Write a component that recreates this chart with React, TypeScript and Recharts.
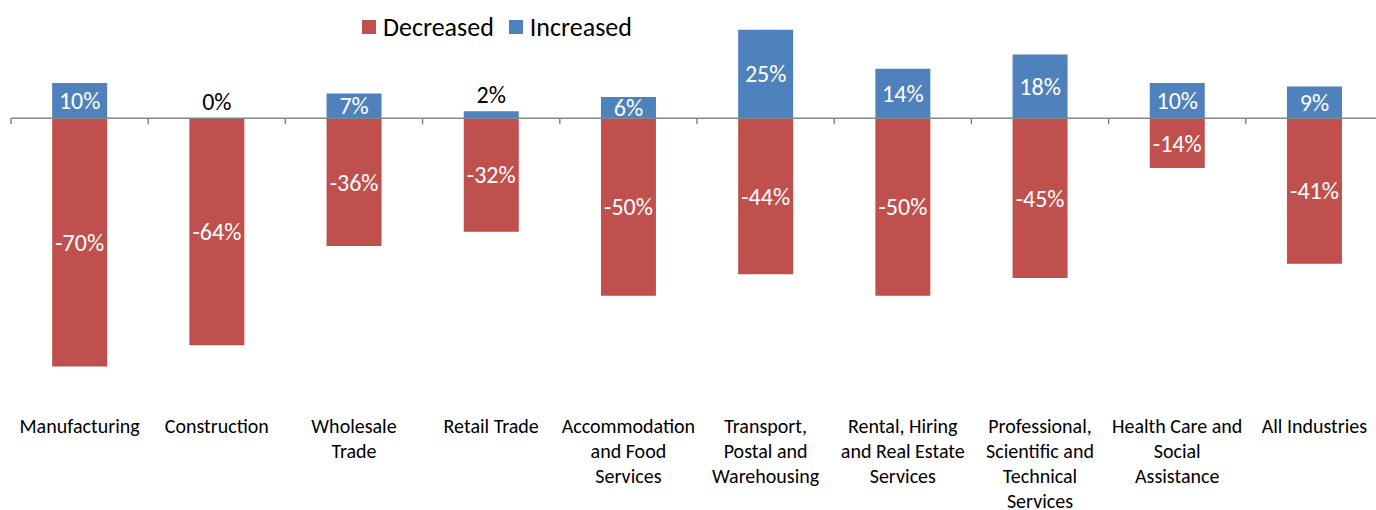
import { Bar, BarChart, LabelList, Legend, ReferenceLine, XAxis, YAxis } from "recharts";

const FONT = "Carlito, Calibri, Lato, sans-serif";

// category labels, "\n" marks where the original wraps
const categories = [
  "Manufacturing",
  "Construction",
  "Wholesale\nTrade",
  "Retail Trade",
  "Accommodation\nand Food\nServices",
  "Transport,\nPostal and\nWarehousing",
  "Rental, Hiring\nand Real Estate\nServices",
  "Professional,\nScientific and\nTechnical\nServices",
  "Health Care and\nSocial\nAssistance",
  "All Industries",
];
const decreased = [-70, -64, -36, -32, -50, -44, -50, -45, -14, -41];
const increased = [10, 0, 7, 2, 6, 25, 14, 18, 10, 9];

const seriesNames = ["Decreased", "Increased"];
const seriesColors = ["#C0504D", "#4F81BD"];

const data = categories.map((name, i) => ({
  name,
  decreased: decreased[i],
  increased: increased[i],
}));

function ValueLabel(props: any) {
  const { x, y, width, height, value } = props;
  const h = Math.abs(height);
  const top = Math.min(y, y + height);
  const inside = h >= 20;
  return (
    <text
      x={x + width / 2}
      y={inside ? top + h / 2 : top - 17}
      dy="0.35em"
      textAnchor="middle"
      fill={inside ? "#fff" : "#000"}
      fontSize={24}
      fontFamily={FONT}
    >
      {value}%
    </text>
  );
}

function CategoryTick(props: any) {
  const { x, y, payload } = props;
  const lines = String(payload.value).split("\n");
  return (
    <text x={x} y={y} textAnchor="middle" fontFamily={FONT} fontSize={20} fill="#000">
      {lines.map((l, i) => (
        <tspan key={i} x={x} dy={i === 0 ? 23 : 25}>
          {l}
        </tspan>
      ))}
    </text>
  );
}

// zero line with small tick marks at the category boundaries
function ZeroAxis(props: any) {
  const { x1, y1, x2 } = props;
  const n = categories.length;
  const step = (x2 - x1) / n;
  return (
    <g stroke="#868686" strokeWidth={1.5}>
      <line x1={x1} y1={y1} x2={x2} y2={y1} />
      {Array.from({ length: n + 1 }, (_, i) => (
        <line key={i} x1={x1 + i * step} y1={y1} x2={x1 + i * step} y2={y1 + 6} />
      ))}
    </g>
  );
}

function LegendContent(props: any) {
  const items = props.payload || [];
  return (
    <div
      style={{
        display: "flex",
        alignItems: "center",
        fontFamily: FONT,
        fontSize: 26,
        lineHeight: "30px",
        color: "#000",
        whiteSpace: "nowrap",
      }}
    >
      {items.map((it: any) => (
        <span key={it.value} style={{ display: "flex", alignItems: "center", marginRight: 15 }}>
          <span
            style={{ display: "inline-block", width: 14, height: 14, background: it.color, marginRight: 7 }}
          />
          {it.value}
        </span>
      ))}
    </div>
  );
}

export default function App() {
  return (
    <div style={{ position: "fixed", top: 0, left: 0, width: 1376, height: 510, overflow: "hidden", background: "#fff" }}>
      <BarChart
        width={1390}
        height={510}
        data={data}
        stackOffset="sign"
        barCategoryGap="30%"
        margin={{ top: 12, right: 7, left: 11, bottom: 0 }}
      >
        <XAxis dataKey="name" axisLine={false} tickLine={false} interval={0} height={108} tick={<CategoryTick />} />
        <YAxis hide domain={[-80, 30]} />
        <ReferenceLine y={0} shape={<ZeroAxis />} />
        <Legend
          layout="vertical"
          align="center"
          verticalAlign="middle"
          wrapperStyle={{ top: 12, left: 362, width: "auto" }}
          content={<LegendContent />}
        />
        <Bar dataKey="decreased" name={seriesNames[0]} stackId="a" fill={seriesColors[0]} isAnimationActive={false}>
          <LabelList dataKey="decreased" content={<ValueLabel />} />
        </Bar>
        <Bar
          dataKey="increased"
          name={seriesNames[1]}
          stackId="a"
          fill={seriesColors[1]}
          minPointSize={0.01}
          isAnimationActive={false}
        >
          <LabelList dataKey="increased" content={<ValueLabel />} />
        </Bar>
      </BarChart>
    </div>
  );
}
